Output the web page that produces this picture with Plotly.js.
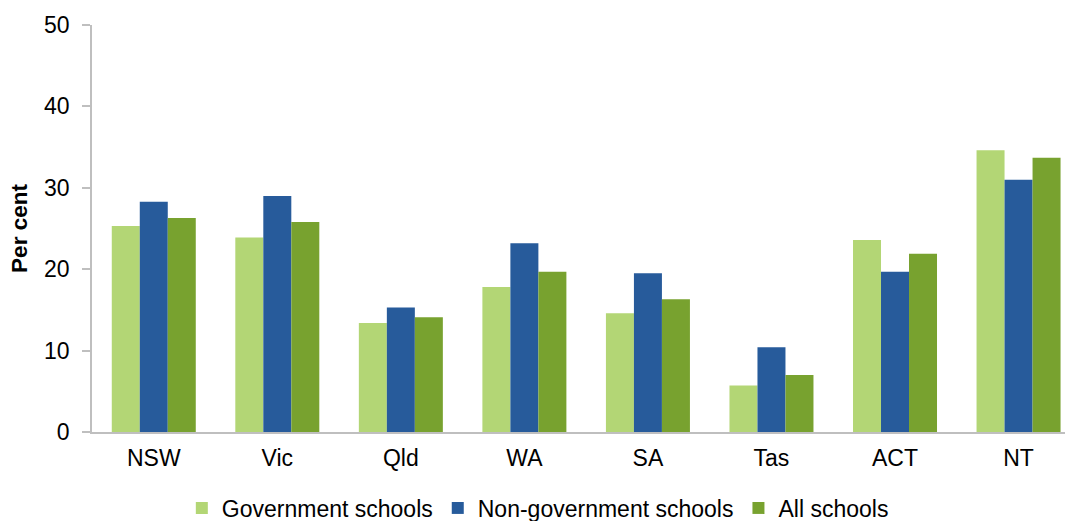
<!DOCTYPE html>
<html>
<head>
<meta charset="utf-8">
<script src="https://cdn.plot.ly/plotly-3.0.1.min.js"></script>
<style>html,body{margin:0;padding:0;background:#fff;}#chart{width:1065px;height:521px;}</style>
</head>
<body>
<div id="chart"></div>
<script>
const categories = ["NSW", "Vic", "Qld", "WA", "SA", "Tas", "ACT", "NT"];
const governmentSchools = [25.3, 23.9, 13.4, 17.8, 14.6, 5.7, 23.6, 34.6];
const nonGovernmentSchools = [28.3, 29.0, 15.3, 23.2, 19.5, 10.4, 19.7, 31.0];
const allSchools = [26.3, 25.8, 14.1, 19.7, 16.3, 7.0, 21.9, 33.7];
const seriesNames = ["Government schools", "Non-government schools", "All schools"];
const seriesColors = ["#b3d675", "#275b9b", "#78a22f"];
const yTicks = [0, 10, 20, 30, 40, 50];

const font = "Liberation Sans, Arial, sans-serif";
const seriesValues = [governmentSchools, nonGovernmentSchools, allSchools];
const traces = seriesValues.map((vals, i) => ({
  type: "bar",
  name: seriesNames[i],
  x: categories,
  y: vals,
  marker: {color: seriesColors[i]},
  hoverinfo: "x+y+name"
}));

const layout = {
  width: 1065,
  height: 521,
  margin: {l: 92, r: 0, t: 25, b: 89},
  paper_bgcolor: "#ffffff",
  plot_bgcolor: "#ffffff",
  font: {family: font, size: 23, color: "#000000"},
  barmode: "group",
  bargap: 0.32,
  bargroupgap: 0,
  showlegend: true,
  legend: {
    orientation: "h",
    xref: "container",
    yref: "container",
    x: 0.505,
    xanchor: "center",
    y: 0.025,
    yanchor: "middle",
    itemwidth: 30,
    font: {family: font, size: 23, color: "#000000"},
    bgcolor: "rgba(0,0,0,0)"
  },
  xaxis: {
    type: "category",
    range: [-0.5, 7.376],
    showline: true,
    linecolor: "#bfbfbf",
    linewidth: 2,
    ticks: "",
    showgrid: false,
    zeroline: false,
    ticklabelstandoff: 4,
    tickfont: {family: font, size: 23, color: "#000000"},
    fixedrange: true
  },
  yaxis: {
    range: [0, 50],
    tickvals: yTicks,
    ticktext: yTicks.map(String),
    showline: true,
    linecolor: "#bfbfbf",
    linewidth: 1.5,
    ticks: "outside",
    ticklen: 8,
    tickwidth: 1.5,
    tickcolor: "#bfbfbf",
    showgrid: false,
    zeroline: false,
    ticklabelstandoff: 8,
    tickfont: {family: font, size: 23, color: "#000000"},
    title: {text: "<b>Per cent</b>", font: {family: font, size: 22.5, color: "#000000"}, standoff: 10},
    fixedrange: true
  }
};

Plotly.newPlot("chart", traces, layout, {displayModeBar: false, staticPlot: false});
</script>
</body>
</html>
